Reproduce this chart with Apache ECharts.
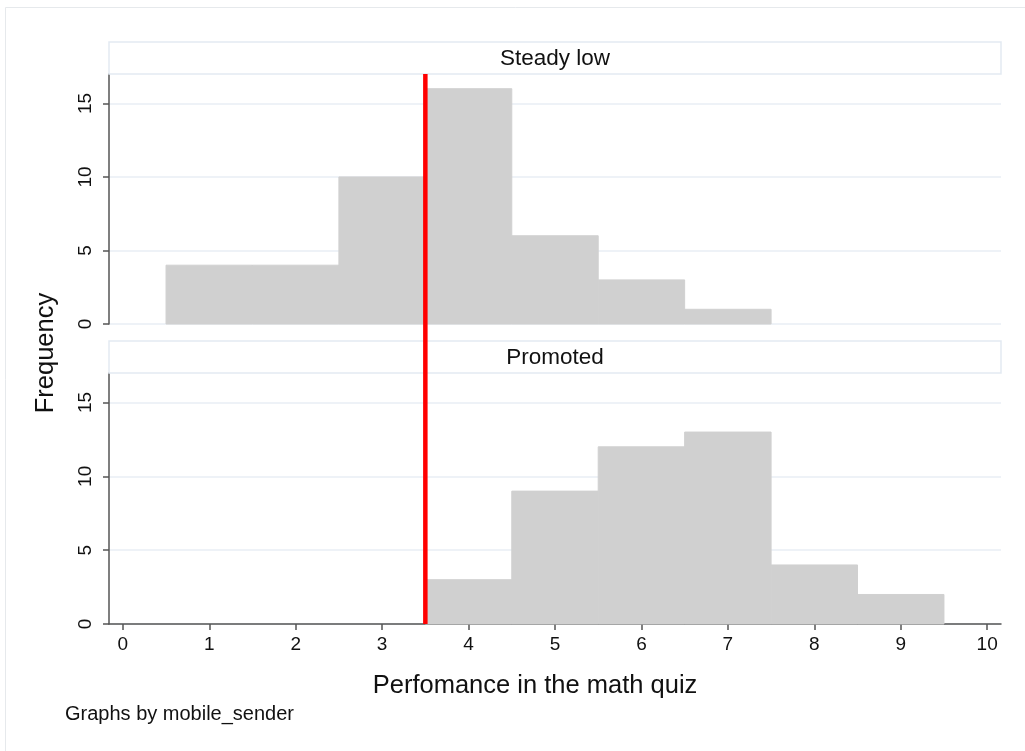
<!DOCTYPE html>
<html>
<head>
<meta charset="utf-8">
<script src="https://cdn.jsdelivr.net/npm/echarts@6/dist/echarts.min.js"></script>
<style>
html,body{margin:0;padding:0;background:#fff;}
#main{width:1025px;height:751px;}
</style>
</head>
<body>
<div id="main"></div>
<script>
// ---- data ----
const binCenters = [1, 2, 3, 4, 5, 6, 7, 8, 9];
const steadyLow = [4, 4, 10, 16, 6, 3, 1, 0, 0];
const promoted = [0, 0, 0, 3, 9, 12, 13, 4, 2];
const panelTitles = ['Steady low', 'Promoted'];
const cutoff = 3.5;
const xTicks = [0, 1, 2, 3, 4, 5, 6, 7, 8, 9, 10];
const yTicks = [0, 5, 10, 15];
const xTitle = 'Perfomance in the math quiz';
const yTitle = 'Frequency';
const note = 'Graphs by mobile_sender';

// ---- layout ----
const FONT = '"Liberation Sans", Arial, Helvetica, sans-serif';
const L = 109, R = 1001, W = 1025;
const panels = [
  { headTop: 42, top: 74, bottom: 324 },
  { headTop: 341, top: 373, bottom: 624 }
];
const X_MIN = -0.16, X_MAX = 10.16;
const AXIS_COLOR = '#555555';
const GRID_COLOR = '#e8eef4';
const BAR_COLOR = '#d0d0d0';

function toPairs(vals) {
  return binCenters.map((c, i) => [c, vals[i]]).filter(d => d[1] > 0);
}

function renderBin(params, api) {
  const c = api.value(0), v = api.value(1);
  const p0 = api.coord([c - 0.5, v]);
  const p1 = api.coord([c + 0.5, 0]);
  return {
    type: 'rect',
    shape: { x: p0[0], y: p0[1], width: p1[0] - p0[0], height: p1[1] - p0[1] },
    style: { fill: BAR_COLOR, stroke: BAR_COLOR, lineWidth: 1 }
  };
}

const grids = [], xAxes = [], yAxes = [], series = [];
panels.forEach((p, i) => {
  grids.push({ left: L, right: W - R, top: p.top, height: p.bottom - p.top });
  const isBottom = i === panels.length - 1;
  xAxes.push({
    type: 'value', gridIndex: i, min: X_MIN, max: X_MAX,
    show: true,
    axisLine: { show: isBottom, onZero: false, lineStyle: { color: AXIS_COLOR, width: 1.5 } },
    axisTick: { show: isBottom, length: 6, customValues: xTicks, lineStyle: { color: AXIS_COLOR, width: 1.5 } },
    axisLabel: { show: isBottom, customValues: xTicks, margin: 11, fontSize: 19, color: '#111', fontFamily: FONT },
    splitLine: { show: false }
  });
  yAxes.push({
    type: 'value', gridIndex: i, min: 0, max: 17, interval: 5,
    axisLine: { show: true, onZero: false, lineStyle: { color: AXIS_COLOR, width: 1.5 } },
    axisTick: { show: true, length: 6, customValues: yTicks, lineStyle: { color: AXIS_COLOR, width: 1.5 } },
    axisLabel: { customValues: yTicks, rotate: 90, margin: 14, fontSize: 19, color: '#111', fontFamily: FONT },
    splitLine: { show: true, lineStyle: { color: GRID_COLOR, width: 1.5 } }
  });
  series.push({
    type: 'custom', xAxisIndex: i, yAxisIndex: i,
    renderItem: renderBin,
    data: toPairs(i === 0 ? steadyLow : promoted),
    z: 2, silent: true
  });
});

// overlay grid for the full-height reference line
grids.push({ left: L, right: W - R, top: panels[0].top, height: panels[1].bottom - panels[0].top });
xAxes.push({ type: 'value', gridIndex: 2, min: X_MIN, max: X_MAX, show: false });
yAxes.push({ type: 'value', gridIndex: 2, min: 0, max: 1, show: false });
series.push({
  type: 'line', xAxisIndex: 2, yAxisIndex: 2,
  data: [[cutoff, 0], [cutoff, 1]],
  symbol: 'none', silent: true, z: 10,
  lineStyle: { color: '#ff0000', width: 4.5 }
});

const graphics = [
  { type: 'rect', shape: { x: 5.5, y: 7.5, width: 1100, height: 800 },
    style: { fill: 'none', stroke: '#e6e9ec', lineWidth: 1 }, z: -10, silent: true }
];
panels.forEach((p, i) => {
  graphics.push({
    type: 'rect', shape: { x: L, y: p.headTop, width: R - L, height: p.top - p.headTop },
    style: { fill: '#ffffff', stroke: '#e3eaf2', lineWidth: 1.5 }, z: 5, silent: true
  });
  graphics.push({
    type: 'text', x: (L + R) / 2, y: (p.headTop + p.top) / 2 + 1, z: 6, silent: true,
    style: { text: panelTitles[i], font: '22.5px ' + FONT, fill: '#111', align: 'center', verticalAlign: 'middle' }
  });
});
graphics.push({
  type: 'text', x: 535, y: 686, silent: true,
  style: { text: xTitle, font: '25.5px ' + FONT, fill: '#111', align: 'center', verticalAlign: 'middle' }
});
graphics.push({
  type: 'text', x: 46, y: 353, rotation: Math.PI / 2, silent: true,
  style: { text: yTitle, font: '25.5px ' + FONT, fill: '#111', align: 'center', verticalAlign: 'middle' }
});
graphics.push({
  type: 'text', x: 65, y: 714, silent: true,
  style: { text: note, font: '20px ' + FONT, fill: '#111', align: 'left', verticalAlign: 'middle' }
});

const chart = echarts.init(document.getElementById('main'), null, { renderer: 'canvas' });
chart.setOption({
  backgroundColor: '#ffffff',
  animation: false,
  grid: grids,
  xAxis: xAxes,
  yAxis: yAxes,
  series: series,
  graphic: graphics
});
</script>
</body>
</html>
